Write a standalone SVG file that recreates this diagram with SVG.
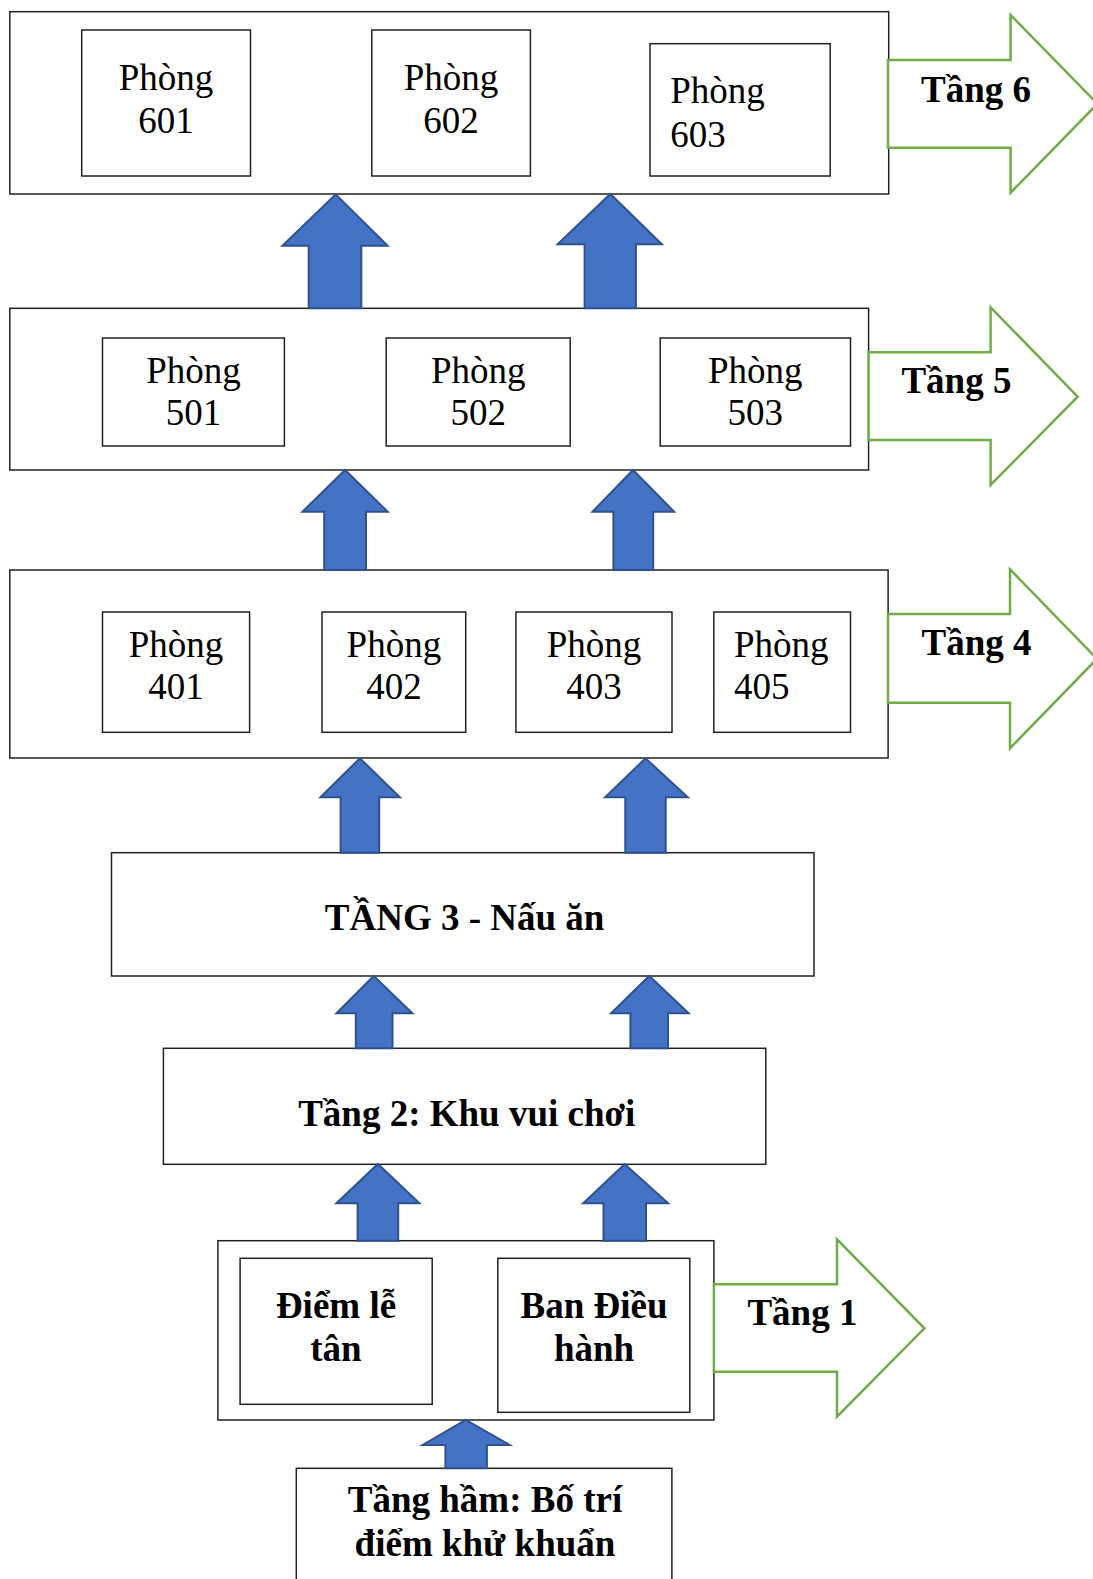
<svg xmlns="http://www.w3.org/2000/svg" width="1093" height="1579" viewBox="0 0 1093 1579">
<style>
.box{fill:#fff;stroke:#222;stroke-width:1.5}
.green{fill:#fff;stroke:#70AD47;stroke-width:2.5}
.blue{fill:#4472C4;stroke:#2F528F;stroke-width:2}
.t{font-family:"Liberation Serif","Times New Roman",serif;font-size:37px;fill:#000}
.b{font-weight:bold}
.c{text-anchor:middle}
</style>
<rect width="1093" height="1579" fill="#fff"/>
<g id="floor6">
<rect class="box" x="9.8" y="11.7" width="878.9" height="182.3"/>
<polygon class="green" points="888,60 1010.6,60 1010.6,15 1097.5,103.8 1010.6,192.7 1010.6,147.7 888,147.7"/>
<text class="t b" x="921" y="101.7">Tầng 6</text>
</g>
<g id="room601"><rect class="box" x="81.7" y="30" width="168.8" height="146"/>
<text class="t c" x="166" y="90">Phòng</text><text class="t c" x="166" y="133.3">601</text></g>
<g id="room602"><rect class="box" x="371.8" y="30" width="158.6" height="146"/>
<text class="t c" x="451" y="90">Phòng</text><text class="t c" x="451" y="133.3">602</text></g>
<g id="room603"><rect class="box" x="650" y="43.7" width="180.2" height="132.3"/>
<text class="t" x="670.2" y="103.3">Phòng</text><text class="t" x="670.2" y="146.7">603</text></g>
<g id="floor5">
<rect class="box" x="9.8" y="308.3" width="858.8" height="161.7"/>
<polygon class="green" points="868.6,352.3 990.6,352.3 990.6,307.3 1077.7,396.7 990.6,485 990.6,440 868.6,440"/>
<text class="t b" x="901.4" y="393.3">Tầng 5</text>
</g>
<g id="room501"><rect class="box" x="102.5" y="338" width="181.9" height="108"/>
<text class="t c" x="193.5" y="382.7">Phòng</text><text class="t c" x="193.5" y="425">501</text></g>
<g id="room502"><rect class="box" x="386.2" y="338" width="184" height="108"/>
<text class="t c" x="478.2" y="382.7">Phòng</text><text class="t c" x="478.2" y="425">502</text></g>
<g id="room503"><rect class="box" x="660.2" y="338" width="190.3" height="108"/>
<text class="t c" x="755.3" y="382.7">Phòng</text><text class="t c" x="755.3" y="425">503</text></g>
<g id="floor4">
<rect class="box" x="9.8" y="570" width="878.3" height="188"/>
<polygon class="green" points="888,614 1010,614 1010,569.3 1097,658.8 1010,748.3 1010,702.7 888,702.7"/>
<text class="t b" x="921.6" y="655">Tầng 4</text>
</g>
<g id="room401"><rect class="box" x="102.5" y="612" width="147.1" height="120.3"/>
<text class="t c" x="176" y="656.7">Phòng</text><text class="t c" x="176" y="699">401</text></g>
<g id="room402"><rect class="box" x="322" y="612" width="143.7" height="120.3"/>
<text class="t c" x="393.9" y="656.7">Phòng</text><text class="t c" x="393.9" y="699">402</text></g>
<g id="room403"><rect class="box" x="515.9" y="612" width="156.1" height="120.3"/>
<text class="t c" x="594" y="656.7">Phòng</text><text class="t c" x="594" y="699">403</text></g>
<g id="room405"><rect class="box" x="713.8" y="612" width="136.7" height="120.3"/>
<text class="t" x="734" y="656.7">Phòng</text><text class="t" x="734" y="699">405</text></g>
<g id="floor3">
<rect class="box" x="111.5" y="852.7" width="702.5" height="123.3"/>
<text class="t b c" x="464.6" y="930">TẦNG 3 - Nấu ăn</text>
</g>
<g id="floor2">
<rect class="box" x="163.4" y="1048.3" width="602.4" height="116"/>
<text class="t b c" x="466.7" y="1126">Tầng 2: Khu vui chơi</text>
</g>
<g id="floor1">
<rect class="box" x="217.9" y="1240.7" width="496" height="179.3"/>
<polygon class="green" points="713.9,1284.3 837,1284.3 837,1239.3 924.4,1328.3 837,1416.7 837,1371.7 713.9,1371.7"/>
<text class="t b" x="747.4" y="1325">Tầng 1</text>
</g>
<g id="reception"><rect class="box" x="240.1" y="1258.3" width="192.1" height="146"/>
<text class="t b c" x="336" y="1318.3">Điểm lễ</text><text class="t b c" x="336" y="1360.7">tân</text></g>
<g id="management"><rect class="box" x="497.8" y="1258.3" width="192" height="154"/>
<text class="t b c" x="594" y="1318.3">Ban Điều</text><text class="t b c" x="594" y="1360.7">hành</text></g>
<g id="basement">
<rect class="box" x="296.3" y="1468.3" width="375.6" height="130"/>
<text class="t b c" x="485" y="1511.7">Tầng hầm: Bố trí</text>
<text class="t b c" x="485" y="1556">điểm khử khuẩn</text>
</g>
<g id="connectors">
<polygon class="blue" points="308.7,308.3 308.7,245.7 282.4,245.7 335.7,194.3 387.6,245.7 361.3,245.7 361.3,308.3"/>
<polygon class="blue" points="584.6,308.3 584.6,244.3 557.6,244.3 610.3,194 661.9,244.3 635.9,244.3 635.9,308.3"/>
<polygon class="blue" points="324.2,570 324.2,511.7 302.5,511.7 345.1,470 387.6,511.7 366,511.7 366,570"/>
<polygon class="blue" points="613.4,570 613.4,511.7 592.5,511.7 633,470 674.1,511.7 653.2,511.7 653.2,570"/>
<polygon class="blue" points="340.6,852.7 340.6,797.3 320.4,797.3 359.9,758.3 399.9,797.3 379.2,797.3 379.2,852.7"/>
<polygon class="blue" points="625.3,852.7 625.3,797.3 605.1,797.3 645.5,758.3 687.8,797.3 665.7,797.3 665.7,852.7"/>
<polygon class="blue" points="355.8,1048.3 355.8,1013.3 336.5,1013.3 373.7,976 412.3,1013.3 392.5,1013.3 392.5,1048.3"/>
<polygon class="blue" points="630.4,1048.3 630.4,1013.3 611.1,1013.3 649.2,976 688.7,1013.3 668,1013.3 668,1048.3"/>
<polygon class="blue" points="357.6,1240.7 357.6,1203.3 336.4,1203.3 377.9,1164 419.4,1203.3 398.2,1203.3 398.2,1240.7"/>
<polygon class="blue" points="603.5,1240.7 603.5,1203.3 583.2,1203.3 624.7,1164 668.1,1203.3 646,1203.3 646,1240.7"/>
<polygon class="blue" points="445.4,1468.3 445.4,1445 422.7,1445 465.7,1420 509.6,1445 486.9,1445 486.9,1468.3"/>
</g>
</svg>
